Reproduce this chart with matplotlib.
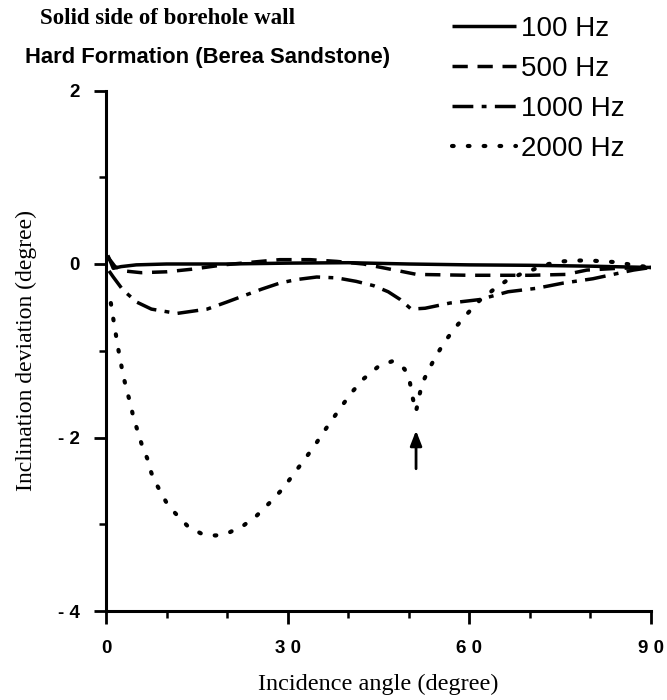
import matplotlib
matplotlib.use('Agg')
import matplotlib.pyplot as plt
from matplotlib.ticker import FixedLocator

# ---------------- data ----------------
angle_100 = [0.3, 1.2, 2.5, 5, 10, 20, 30, 40, 50, 60, 70, 80, 90]
dev_100 = [0.10, -0.05, -0.03, -0.01, 0.0, 0.0, 0.01, 0.015, 0.0, -0.01, -0.015, -0.025, -0.04]

angle_500 = [0.3, 1.5, 3.0, 5.8, 10.0, 14.2, 19.4, 25.5, 28.7, 33.7, 38.1, 42.5,
             47.7, 51.3, 60.0, 70.0, 76.0, 79.4, 84.4, 90.0]
dev_500 = [0.08, -0.03, -0.08, -0.10, -0.09, -0.06, -0.01, 0.03, 0.05, 0.05, 0.03, 0.0,
           -0.07, -0.12, -0.13, -0.13, -0.12, -0.07, -0.05, -0.04]

angle_1000 = [0.5, 1.2, 2.8, 5.1, 7.5, 11.7, 16.7, 19.9, 22.6, 25.7, 28.7, 31.4, 34.8,
              38.1, 41.3, 44.2, 46.6, 48.6, 50.4, 52.7, 56.8, 61.7, 66.4, 71.1, 75.5,
              80.4, 84.4, 87.1, 90.0]
dev_1000 = [-0.08, -0.15, -0.30, -0.44, -0.52, -0.57, -0.52, -0.44, -0.37, -0.29, -0.22,
            -0.18, -0.15, -0.16, -0.20, -0.25, -0.32, -0.41, -0.52, -0.51, -0.45, -0.41,
            -0.32, -0.28, -0.22, -0.17, -0.11, -0.07, -0.04]

angle_2000 = [0.8, 1.2, 1.6, 2.0, 2.4, 2.8, 3.4, 4.0, 4.5, 5.2, 5.9, 6.8, 7.5, 8.5, 9.9,
              11.4, 13.6, 15.8, 18.1, 20.5, 22.8, 24.9, 27.2, 29.2, 31.0, 32.5, 34.4,
              35.8, 38.9, 40.7, 42.6, 45.0, 47.3, 49.3, 50.2, 50.6, 51.2, 51.7, 52.2,
              53.2, 54.5, 55.9, 57.6, 59.3, 61.7, 64.1, 66.4, 68.7, 73.1, 75.4, 77.6,
              80.0, 82.2, 84.5, 86.8, 90.0]
dev_2000 = [-0.45, -0.63, -0.80, -0.97, -1.12, -1.27, -1.45, -1.60, -1.76, -1.92, -2.08,
            -2.24, -2.41, -2.56, -2.74, -2.87, -3.03, -3.11, -3.13, -3.09, -3.01, -2.90,
            -2.74, -2.59, -2.42, -2.28, -2.10, -1.95, -1.64, -1.47, -1.32, -1.18, -1.12,
            -1.21, -1.37, -1.53, -1.70, -1.53, -1.38, -1.23, -1.06, -0.90, -0.74, -0.60,
            -0.42, -0.29, -0.18, -0.11, 0.0, 0.03, 0.04, 0.04, 0.03, 0.02, -0.01, -0.04]

series_labels = ['100 Hz', '500 Hz', '1000 Hz', '2000 Hz']

xticks = [0, 30, 60, 90]
xtick_labels = ['0', '3 0', '6 0', '9 0']
xminor = [10, 20, 40, 50, 70, 80]
yticks = [-4, -2, 0, 2]
ytick_labels = ['- 4', '- 2', '0', '2']
yminor = [-3, -1, 1]

arrow_angle = 51.2
arrow_tail, arrow_head = -2.36, -1.92

title_text = 'Solid side of borehole wall'
subtitle_text = 'Hard Formation (Berea Sandstone)'
xlabel_text = 'Incidence angle (degree)'
ylabel_text = 'Inclination deviation (degree)'

# ---------------- figure ----------------
fig = plt.figure(figsize=(6.67, 7.0), dpi=100)
ax = fig.add_axes([106 / 667, 1 - 611 / 700, (651 - 106) / 667, (611 - 90.5) / 700])

lw = 2.5
handles = []
h, = ax.plot(angle_100, dev_100, color='black', lw=lw, ls='-', solid_capstyle='butt')
handles.append(h)
h, = ax.plot(angle_500, dev_500, color='black', lw=lw, dashes=(4.4, 2.8))
handles.append(h)
h, = ax.plot(angle_1000, dev_1000, color='black', lw=lw, dashes=(6.0, 2.4, 1.4, 2.4))
handles.append(h)
h, = ax.plot(angle_2000, dev_2000, color='black', lw=3.0, dashes=(0.4, 3.4),
             dash_capstyle='round')
handles.append(h)

ax.annotate('', xy=(arrow_angle, arrow_head), xytext=(arrow_angle, arrow_tail),
            arrowprops=dict(arrowstyle='-|>,head_length=0.9,head_width=0.35',
                            color='black', lw=2, shrinkA=0, shrinkB=0))

ax.set_xlim(0, 90)
ax.set_ylim(-4, 2)
for s in ['top', 'right']:
    ax.spines[s].set_visible(False)
for s in ['left', 'bottom']:
    ax.spines[s].set_linewidth(2.2)

ax.set_xticks(xticks)
ax.set_xticklabels(xtick_labels)
ax.set_yticks(yticks)
ax.set_yticklabels(ytick_labels)
ax.xaxis.set_minor_locator(FixedLocator(xminor))
ax.yaxis.set_minor_locator(FixedLocator(yminor))
ax.tick_params(which='major', direction='out', length=9, width=2)
ax.tick_params(axis='x', which='major', pad=12)
ax.tick_params(axis='y', which='major', pad=10)
ax.tick_params(which='minor', direction='out', length=5, width=1.8)
for lab in ax.get_xticklabels() + ax.get_yticklabels():
    lab.set_fontfamily('Liberation Sans')
    lab.set_fontweight('bold')
    lab.set_fontsize(13.5)

ax.set_xlabel(xlabel_text, fontfamily='Liberation Serif', fontsize=17.5, labelpad=12)
ax.set_ylabel(ylabel_text, fontfamily='Liberation Serif', fontsize=17, labelpad=15)

fig.text(40 / 667, 1 - 18 / 700, title_text, fontfamily='Liberation Serif',
         fontweight='bold', fontsize=16.5, ha='left', va='center')
fig.text(25 / 667, 1 - 58 / 700, subtitle_text, fontfamily='Liberation Sans',
         fontweight='bold', fontsize=15.8, ha='left', va='center')

leg = ax.legend(handles, series_labels, loc='upper left',
                bbox_to_anchor=(452 / 667, 1 - 16 / 700), bbox_transform=fig.transFigure,
                frameon=False, borderpad=0, borderaxespad=0, handlelength=2.3,
                handletextpad=0.2, labelspacing=0.5,
                prop={'family': 'Liberation Sans', 'size': 20})

fig.savefig('out.png', dpi=100)
